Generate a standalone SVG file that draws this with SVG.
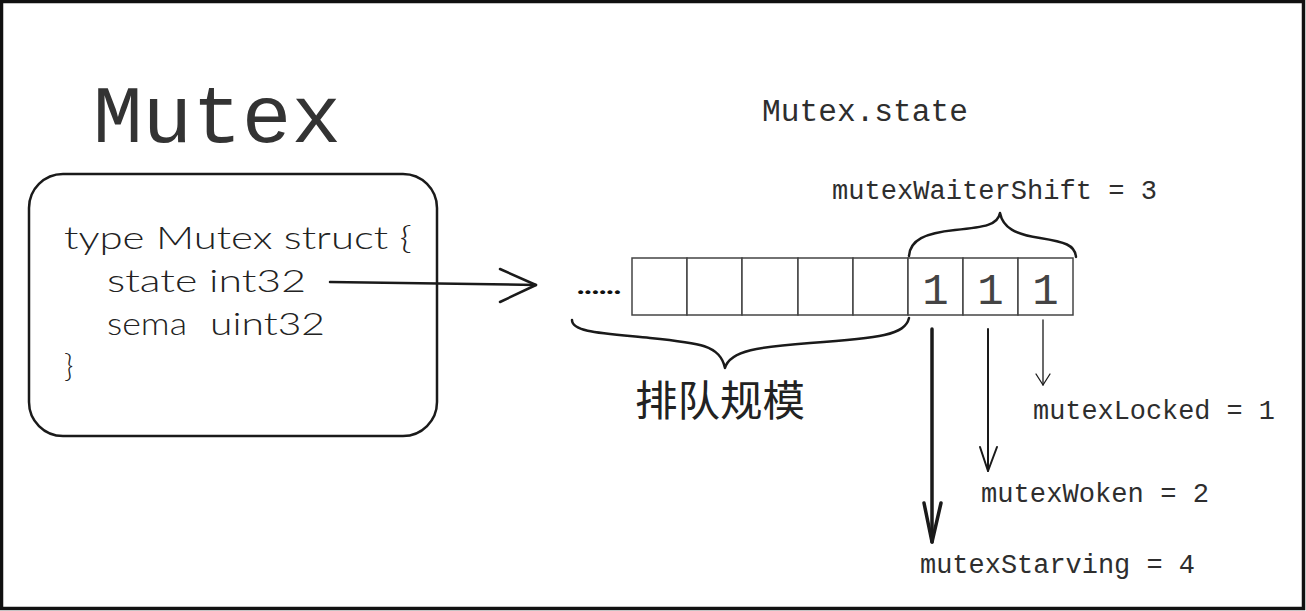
<svg xmlns="http://www.w3.org/2000/svg" width="1306" height="611" viewBox="0 0 1306 611">
<style>
.mono{font-family:"Liberation Mono","DejaVu Sans Mono",monospace;fill:#2e2e2e}
.sans{font-family:Lato,"Liberation Sans","DejaVu Sans",sans-serif;font-weight:300;fill:#222}
.cjk{font-family:"Noto Sans CJK SC","Noto Sans CJK JP",sans-serif;fill:#222}
.ln{fill:none;stroke:#1a1a1a;stroke-linecap:round;stroke-linejoin:round}
.cell{fill:#fff;stroke:#444;stroke-width:1.5}
</style>
<rect x="0" y="0" width="1306" height="611" fill="#fff"/>
<rect x="1.5" y="1.5" width="1302" height="607" fill="none" stroke="#111" stroke-width="3.5"/>

<g id="title">
<text class="mono" x="93" y="142" font-size="82" textLength="248" lengthAdjust="spacingAndGlyphs" style="fill:#333">Mutex</text>
</g>

<g id="struct-box">
<rect x="29" y="174" width="408" height="262" rx="34" ry="34" fill="none" stroke="#1a1a1a" stroke-width="2.5"/>
<text class="sans" x="64" y="249" font-size="32" textLength="348" lengthAdjust="spacingAndGlyphs">type Mutex struct {</text>
<text class="sans" x="107" y="292" font-size="32" textLength="199" lengthAdjust="spacingAndGlyphs">state int32</text>
<text class="sans" x="107" y="335" font-size="32" textLength="80" lengthAdjust="spacingAndGlyphs">sema</text>
<text class="sans" x="210" y="335" font-size="32" textLength="115" lengthAdjust="spacingAndGlyphs">uint32</text>
<text class="sans" x="64" y="377" font-size="32">}</text>
</g>

<g id="state-label">
<text class="mono" x="762" y="121" font-size="31" textLength="206" lengthAdjust="spacingAndGlyphs">Mutex.state</text>
</g>

<g id="state-bits">
<text class="sans" x="577" y="294" font-size="22" style="font-weight:900;fill:#111" textLength="44" lengthAdjust="spacingAndGlyphs">......</text>
<rect class="cell" x="632" y="258" width="55" height="57"/>
<rect class="cell" x="687" y="258" width="55" height="57"/>
<rect class="cell" x="742" y="258" width="56" height="57"/>
<rect class="cell" x="798" y="258" width="55" height="57"/>
<rect class="cell" x="853" y="258" width="55" height="57"/>
<rect class="cell" x="908" y="258" width="55" height="57"/>
<rect class="cell" x="963" y="258" width="55" height="57"/>
<rect class="cell" x="1018" y="258" width="55" height="57"/>
<text class="mono" x="935.5" y="304" font-size="44" text-anchor="middle" style="fill:#444">1</text>
<text class="mono" x="990.5" y="304" font-size="44" text-anchor="middle" style="fill:#444">1</text>
<text class="mono" x="1045.5" y="304" font-size="44" text-anchor="middle" style="fill:#444">1</text>
</g>

<g id="waiter-shift">
<path class="ln" stroke-width="2.5" d="M 909 256 C 910 240, 925 233, 955 230 C 985 227, 998 225, 1000 213 C 1003 228, 1015 234, 1040 238 C 1065 242, 1075 245, 1076 257"/>
<text class="mono" x="832" y="199" font-size="27" textLength="325" lengthAdjust="spacingAndGlyphs">mutexWaiterShift = 3</text>
</g>

<g id="queue-size">
<path class="ln" stroke-width="2.5" d="M 572 320 C 572 332, 600 333, 650 338 C 700 343, 720 345, 725 368 C 730 350, 760 347, 810 343 C 880 338, 905 335, 909 318"/>
<text class="cjk" x="635" y="416" font-size="42" textLength="170" lengthAdjust="spacingAndGlyphs">排队规模</text>
</g>

<g id="label-locked">
<text class="mono" x="1033" y="419" font-size="27" textLength="242" lengthAdjust="spacingAndGlyphs">mutexLocked = 1</text>
</g>
<g id="label-woken">
<text class="mono" x="981" y="502" font-size="27" textLength="228" lengthAdjust="spacingAndGlyphs">mutexWoken = 2</text>
</g>
<g id="label-starving">
<text class="mono" x="920" y="573" font-size="27" textLength="275" lengthAdjust="spacingAndGlyphs">mutexStarving = 4</text>
</g>

<g id="connectors">
<path class="ln" stroke-width="2.5" d="M 330 282 L 536 285"/>
<path class="ln" stroke-width="2.5" d="M 500 269 L 536 285 L 500 302"/>
<path class="ln" stroke-width="3.5" d="M 932 329 L 932 542"/>
<path class="ln" stroke-width="3.5" d="M 924 503 L 932 542 L 941 503"/>
<path class="ln" stroke-width="2" d="M 988 329 L 988 471"/>
<path class="ln" stroke-width="2" d="M 980 447 L 988 471 L 997 447"/>
<path class="ln" stroke-width="1.3" stroke="#444" d="M 1043 320 L 1043 385"/>
<path class="ln" stroke-width="1.3" stroke="#444" d="M 1036 374 L 1043 385 L 1050 374"/>
</g>
</svg>
